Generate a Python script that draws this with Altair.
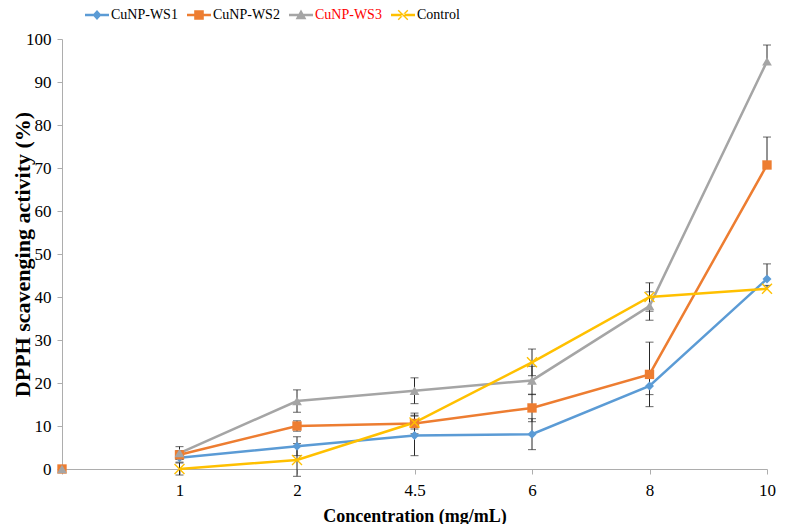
import altair as alt
import pandas as pd

# ---------------- data ----------------
categories = ["0", "1", "2", "4.5", "6", "8", "10"]
conc = ["1", "2", "4.5", "6", "8", "10"]
series_names = ["CuNP-WS1", "CuNP-WS2", "CuNP-WS3", "Control"]
colors = ["#5B9BD5", "#ED7D31", "#A5A5A5", "#FFC000"]

ws1 = [2.6, 5.3, 7.8, 8.1, 19.3, 44.2]
ws2 = [3.3, 10.0, 10.6, 14.2, 22.0, 70.7]
ws3 = [3.7, 15.8, 18.2, 20.6, 37.9, 94.8]
control = [0.0, 2.1, 10.8, 24.8, 40.0, 41.9]

ws1_plus = [1.0, 2.2, 4.7, 3.6, 2.0, 3.5]
ws2_plus = [1.0, 1.2, 2.4, 3.2, 7.5, 6.5]
ws3_plus = [1.5, 2.6, 3.0, 3.3, 3.3, 3.8]
control_plus = [1.4, 3.8, 1.5, 3.1, 3.3, 0.8]

ws1_minus = [1.0, 2.2, 4.7, 3.6, 2.0, 0.0]
ws2_minus = [1.0, 1.2, 2.4, 3.2, 7.5, 0.0]
ws3_minus = [1.5, 2.6, 3.0, 3.3, 3.3, 0.0]
control_minus = [1.4, 3.8, 1.5, 3.1, 3.3, 0.0]

extra_series = ["CuNP-WS2", "CuNP-WS3"]
extra_values = [0.0, 0.0]

values = {"CuNP-WS1": ws1, "CuNP-WS2": ws2, "CuNP-WS3": ws3, "Control": control}
plus = {"CuNP-WS1": ws1_plus, "CuNP-WS2": ws2_plus, "CuNP-WS3": ws3_plus, "Control": control_plus}
minus = {"CuNP-WS1": ws1_minus, "CuNP-WS2": ws2_minus, "CuNP-WS3": ws3_minus, "Control": control_minus}

rows = []
for s in series_names:
    for i, c in enumerate(conc):
        v = values[s][i]
        rows.append(dict(conc=c, series=s, value=v, lo=v - minus[s][i], hi=v + plus[s][i],
                         mminus=minus[s][i]))
df = pd.DataFrame(rows)
extra = pd.DataFrame(dict(conc="0", series=extra_series, value=extra_values))
pts = pd.concat([extra, df[["conc", "series", "value"]]], ignore_index=True)

# ---------------- styling ----------------
FONT = "Liberation Serif"
AX_COL = "#ADADAD"

xscale = alt.Scale(type="point", domain=categories, padding=0)
xaxis = alt.Axis(title="Concentration (mg/mL)", labelExpr="datum.value == '0' ? '' : datum.label",
                 labelAngle=0, labelFont=FONT, labelFontSize=17, labelColor="#000000",
                 labelPadding=8, tickSize=5, tickColor=AX_COL, domainColor=AX_COL,
                 titleFont=FONT, titleFontSize=18, titleFontWeight="bold", titleColor="#000000",
                 titleY=47, titleBaseline="middle", grid=False)
yscale = alt.Scale(domain=[0, 100], nice=False)
yaxis = alt.Axis(title="DPPH scavenging activity (%)", values=list(range(0, 101, 10)),
                 labelFont=FONT, labelFontSize=17, labelColor="#000000", labelPadding=6,
                 tickSize=5, tickColor=AX_COL, domainColor=AX_COL,
                 titleFont=FONT, titleFontSize=22, titleFontWeight="bold", titleColor="#000000",
                 titleX=-40, titleY=215, titleAlign="center", titleBaseline="middle", grid=False)

X = alt.X("conc:N", scale=xscale, axis=xaxis, sort=categories)


def Y(field):
    return alt.Y(field, scale=yscale, axis=yaxis)


def colorenc(field="series:N", legend=None):
    return alt.Color(field, scale=alt.Scale(domain=series_names, range=colors), legend=legend)


base = alt.Chart(df)

err_rule = base.mark_rule(color="#262626", strokeWidth=1).encode(x=X, y=Y("lo:Q"), y2="hi:Q")
err_top = base.mark_tick(color="#262626", thickness=1, size=8).encode(x=X, y=Y("hi:Q"))
err_bot = base.transform_filter("datum.mminus > 0").mark_tick(
    color="#262626", thickness=1, size=8).encode(x=X, y=Y("lo:Q"))

lines = base.mark_line(strokeWidth=2.5).encode(
    x=X, y=Y("value:Q"), color=colorenc(), order=alt.Order("conc_idx:Q")
).transform_calculate(conc_idx="indexof(['1','2','4.5','6','8','10'], datum.conc)")

filled_names = series_names[:3]
filled_pts = alt.Chart(pts).transform_filter(
    alt.FieldOneOfPredicate(field="series", oneOf=filled_names)
).mark_point(filled=True, opacity=1).encode(
    x=X, y=Y("value:Q"),
    color=colorenc(),
    shape=alt.Shape("series:N", scale=alt.Scale(domain=filled_names,
                                               range=["diamond", "square", "triangle-up"]), legend=None),
    size=alt.Size("series:N", scale=alt.Scale(domain=filled_names, range=[80, 95, 120]), legend=None),
)

x_pts = alt.Chart(pts).transform_filter("datum.series == 'Control'").mark_point(
    shape="M-1,-1L1,1M-1,1L1,-1", filled=False, strokeWidth=1.4, size=100, opacity=1,
    color="#FFC000").encode(x=X, y=Y("value:Q"))

# legend layer (invisible marks, custom symbols with line through marker)
bar = "M-2,-0.21L2,-0.21L2,0.21L-2,0.21Z"
leg_paths = [
    bar + " M-0.75,0L0,-0.85L0.75,0L0,0.85Z",
    bar + " M-0.8,-0.8L0.8,-0.8L0.8,0.8L-0.8,0.8Z",
    bar + " M0,-0.9L0.9,0.7L-0.9,0.7Z",
    bar + " M-0.722,-0.878L0.878,0.722L0.722,0.878L-0.878,-0.722Z"
          " M-0.722,0.878L0.878,-0.722L0.722,-0.878L-0.878,0.722Z",
]
leg = alt.Legend(title=None, orient="none", direction="horizontal", legendX=28, legendY=-31,
                 symbolSize=144, symbolStrokeWidth=0, symbolOpacity=1,
                 labelFont=FONT, labelFontSize=14, labelOffset=7, columnPadding=9,
                 labelColor=alt.expr("datum.label == 'CuNP-WS3' ? '#FF0000' : '#000000'"))
legend_layer = base.transform_calculate(series_leg="datum.series").mark_point(
    filled=True, opacity=0, size=144).encode(
    x=X, y=Y("value:Q"),
    color=alt.Color("series_leg:N", scale=alt.Scale(domain=series_names, range=colors), legend=leg),
    shape=alt.Shape("series_leg:N", scale=alt.Scale(domain=series_names, range=leg_paths), legend=leg),
)

chart = alt.layer(err_rule, err_top, err_bot, lines, filled_pts, x_pts, legend_layer).resolve_scale(
    shape="independent", color="independent", size="independent"
).properties(
    width=705, height=430,
    padding={"left": 54, "top": 31, "right": 10, "bottom": 55},
    autosize=alt.AutoSizeParams(type="none"),
    background="white",
).configure_view(stroke=None)

chart.save("out.html", embed_options={"renderer": "svg", "actions": False})
